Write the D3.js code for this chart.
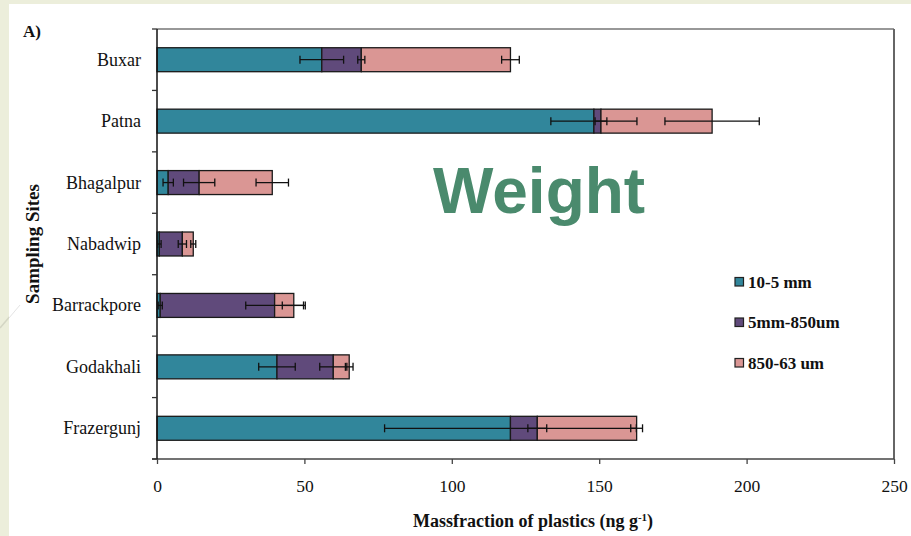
<!DOCTYPE html>
<html>
<head>
<meta charset="utf-8">
<script src="https://cdn.jsdelivr.net/npm/d3@7"></script>
<style>
  html, body { margin: 0; padding: 0; background: #eceedb; }
  svg { display: block; }
</style>
</head>
<body>
<svg id="chart" width="911" height="536"></svg>
<script>
const categories = ["Buxar", "Patna", "Bhagalpur", "Nabadwip", "Barrackpore", "Godakhali", "Frazergunj"];
const seriesNames = ["10-5 mm", "5mm-850um", "850-63 um"];
const seriesColors = ["#31869b", "#604a7b", "#da9694"];
const s1 = [55.9, 148.2, 3.8, 0.8, 1.1, 40.7, 119.9];
const s2 = [13.4, 2.4, 10.5, 7.8, 38.8, 19.1, 9.1];
const s3 = [50.6, 37.7, 24.8, 3.7, 6.5, 5.4, 33.7];
const err1 = [7.4, 14.6, 1.75, 0.6, 0.7, 6.2, 42.7];
const err2 = [1.2, 2.0, 5.3, 1.4, 9.8, 4.6, 3.2];
const err3 = [3.0, 16.0, 5.5, 0.85, 3.9, 1.3, 2.0];
const xTicks = [0, 50, 100, 150, 200, 250];
const xTitle = "Massfraction of plastics (ng g";
const yTitle = "Sampling Sites";
const panelLabel = "A)";
const overlayText = "Weight";

const svg = d3.select("#chart");
// slide background decoration
svg.append("rect").attr("x", 0).attr("y", 0).attr("width", 911).attr("height", 536).attr("fill", "#eceedb");
svg.append("line").attr("x1", 0).attr("y1", 328).attr("x2", 60).attr("y2", 258)
  .attr("stroke", "#d4d6c4").attr("stroke-width", 1.5);
svg.append("rect").attr("x", 9).attr("y", 4).attr("width", 902).attr("height", 532).attr("fill", "#ffffff");
svg.append("line").attr("x1", 9).attr("y1", 318).attr("x2", 20).attr("y2", 305)
  .attr("stroke", "#e4e4e4").attr("stroke-width", 1);

const L = 157, R = 894, T = 29, B = 459;
const x = d3.scaleLinear().domain([0, 250]).range([L, R]);
const y = d3.scaleBand().domain(categories).range([T, B]).paddingInner(0.61).paddingOuter(0.305);
const yOuter = d3.scaleBand().domain(categories).range([T, B]);

const serif = "'Liberation Serif', 'Times New Roman', serif";

// frame top & right
svg.append("line").attr("x1", L).attr("y1", T).attr("x2", R).attr("y2", T).attr("stroke", "#333").attr("stroke-width", 1.2);
svg.append("line").attr("x1", R).attr("y1", T).attr("x2", R).attr("y2", B).attr("stroke", "#666").attr("stroke-width", 2);

// stacked data
const stackData = categories.map((c, i) => ({cat: c, a: s1[i], b: s2[i], c3: s3[i]}));
const stack = d3.stack().keys(["a", "b", "c3"])(stackData);
const errs = [err1, err2, err3];

stack.forEach((layer, li) => {
  svg.append("g").selectAll("rect").data(layer).join("rect")
    .attr("x", d => x(d[0]))
    .attr("y", d => y(d.data.cat))
    .attr("width", d => x(d[1]) - x(d[0]))
    .attr("height", y.bandwidth())
    .attr("fill", seriesColors[li])
    .attr("stroke", "#1a1a1a")
    .attr("stroke-width", 1.3);
});

// error bars
stack.forEach((layer, li) => {
  const g = svg.append("g").attr("stroke", "#111").attr("stroke-width", 1.3);
  layer.forEach((d, i) => {
    const cy = y(d.data.cat) + y.bandwidth() / 2;
    const e = errs[li][i];
    const x0 = x(d[1] - e), x1 = x(d[1] + e);
    g.append("line").attr("x1", x0).attr("x2", x1).attr("y1", cy).attr("y2", cy);
    g.append("line").attr("x1", x0).attr("x2", x0).attr("y1", cy - 4).attr("y2", cy + 4);
    g.append("line").attr("x1", x1).attr("x2", x1).attr("y1", cy - 4).attr("y2", cy + 4);
  });
});

// x axis
const xAxis = d3.axisBottom(x).tickValues(xTicks).tickSize(5).tickSizeOuter(0).tickPadding(16);
const gx = svg.append("g").attr("transform", `translate(0,${B})`).call(xAxis);
gx.select(".domain").attr("stroke", "#444").attr("stroke-width", 1.5).attr("d", `M${L - 5},0H${R}`);
gx.selectAll(".tick line").attr("stroke", "#444").attr("stroke-width", 1.3);
gx.selectAll(".tick text").attr("font-family", serif).attr("font-size", 17.5).attr("fill", "#111");

// y axis: ticks at band boundaries
const gy = svg.append("g");
gy.append("line").attr("x1", L).attr("x2", L).attr("y1", T).attr("y2", B).attr("stroke", "#111").attr("stroke-width", 1.5);
const bounds = categories.map(c => yOuter(c)).concat([B]);
gy.selectAll("line.tk").data(bounds).join("line").attr("class", "tk")
  .attr("x1", L - 5).attr("x2", L).attr("y1", d => d).attr("y2", d => d)
  .attr("stroke", "#333").attr("stroke-width", 1.3);
gy.selectAll("text").data(categories).join("text")
  .attr("x", 141)
  .attr("y", d => yOuter(d) + yOuter.bandwidth() / 2 + 6)
  .attr("text-anchor", "end")
  .attr("font-family", serif).attr("font-size", 18).attr("fill", "#111")
  .text(d => d);

// axis titles
const xt = svg.append("text").attr("x", 533).attr("y", 527).attr("text-anchor", "middle")
  .attr("font-family", serif).attr("font-size", 18).attr("font-weight", "bold").attr("fill", "#111");
xt.append("tspan").text(xTitle);
xt.append("tspan").attr("dy", -6).attr("font-size", 11).text("-1");
xt.append("tspan").attr("dy", 6).text(")");

svg.append("text").attr("transform", "translate(39,244) rotate(-90)").attr("text-anchor", "middle")
  .attr("font-family", serif).attr("font-size", 19).attr("font-weight", "bold").attr("fill", "#111")
  .text(yTitle);

svg.append("text").attr("x", 23).attr("y", 37).attr("font-family", serif).attr("font-size", 17)
  .attr("font-weight", "bold").attr("fill", "#111").text(panelLabel);

// legend
const lg = svg.append("g");
seriesNames.forEach((n, i) => {
  const cy = 282 + i * 40.5;
  lg.append("rect").attr("x", 735).attr("y", cy - 4.5).attr("width", 8.5).attr("height", 8.5)
    .attr("fill", seriesColors[i]).attr("stroke", "#222").attr("stroke-width", 1.2);
  lg.append("text").attr("x", 748).attr("y", cy + 5.5)
    .attr("font-family", serif).attr("font-size", 17).attr("font-weight", "bold").attr("fill", "#111")
    .text(n);
});

// overlay word
svg.append("text").attr("x", 433).attr("y", 213)
  .attr("font-family", "'Liberation Sans', Arial, sans-serif").attr("font-size", 64).attr("font-weight", "bold")
  .attr("fill", "#4a8a6d").text(overlayText);
</script>
</body>
</html>
